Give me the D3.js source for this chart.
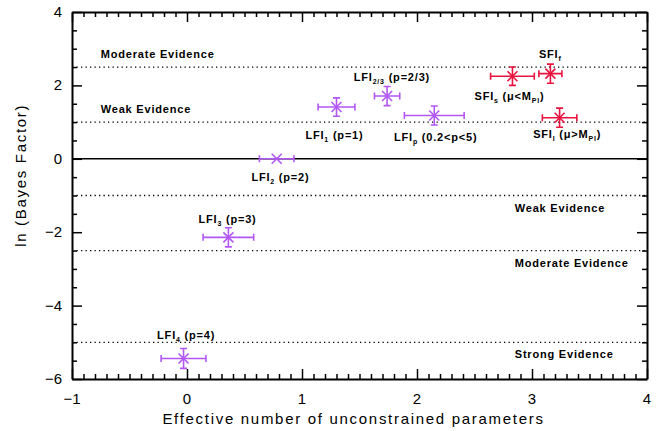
<!DOCTYPE html>
<html>
<head>
<meta charset="utf-8">
<script src="https://cdn.jsdelivr.net/npm/d3@7"></script>
<style>
  body { margin: 0; background: #fff; }
  svg { display: block; }
  .tick-label { font-family: 'Liberation Sans', sans-serif; font-size: 15px; fill: #000; }
  .axis-title { font-family: 'Liberation Sans', sans-serif; font-size: 15px; letter-spacing: 1.7px; fill: #000; }
  .note { font-family: 'Liberation Sans', sans-serif; font-size: 11px; font-weight: bold; fill: #000; letter-spacing: 0.8px; }
</style>
</head>
<body>
<div id="chart"></div>
<script>
// models: name, effective params, ln B and errors
const models = ['LFI1', 'LFI2', 'LFI3', 'LFI4', 'LFI2/3', 'LFIp', 'SFIs', 'SFIf', 'SFIl'];
const xVals = [1.30, 0.78, 0.36, -0.03, 1.74, 2.15, 2.83, 3.16, 3.24];
const xErrs = [0.16, 0.15, 0.22, 0.195, 0.11, 0.26, 0.19, 0.10, 0.15];
const yVals = [1.41, 0.0, -2.14, -5.44, 1.71, 1.18, 2.25, 2.32, 1.12];
const yErrs = [0.25, 0.0, 0.26, 0.27, 0.26, 0.26, 0.25, 0.26, 0.26];
const groups = ['LFI', 'LFI', 'LFI', 'LFI', 'LFI', 'LFI', 'SFI', 'SFI', 'SFI'];

const xTicks = [-1, 0, 1, 2, 3, 4];
const yTicks = [-6, -4, -2, 0, 2, 4];
const evidenceLines = [2.5, 1, -1, -2.5, -5];

// label text pieces, 'sub' marks a subscript
const labels = [
  { parts: [['LFI'], ['1', 'sub'], [' (p=1)']], x: 1.03, y: 0.55 },
  { parts: [['LFI'], ['2', 'sub'], [' (p=2)']], x: 0.56, y: -0.6 },
  { parts: [['LFI'], ['3', 'sub'], [' (p=3)']], x: 0.1, y: -1.75 },
  { parts: [['LFI'], ['4', 'sub'], [' (p=4)']], x: -0.26, y: -4.9 },
  { parts: [['LFI'], ['2/3', 'sub'], [' (p=2/3)']], x: 1.45, y: 2.12 },
  { parts: [['LFI'], ['p', 'sub'], [' (0.2<p<5)']], x: 1.80, y: 0.48 },
  { parts: [['SFI'], ['s', 'sub'], [' (\u03bc<M'], ['Pl', 'sub'], [')']], x: 2.50, y: 1.6 },
  { parts: [['SFI'], ['f', 'sub']], x: 3.06, y: 2.75 },
  { parts: [['SFI'], ['l', 'sub'], [' (\u03bc>M'], ['Pl', 'sub'], [')']], x: 3.01, y: 0.56 }
];
const leftNotes = [{ t: 'Moderate Evidence', y: 2.74 }, { t: 'Weak Evidence', y: 1.25 }];
const rightNotes = [{ t: 'Weak Evidence', y: -1.45 }, { t: 'Moderate Evidence', y: -2.95 }, { t: 'Strong Evidence', y: -5.43 }];

const colors = { LFI: '#b257f5', SFI: '#e8133f' };

const W = 660, H = 431;
const margin = { top: 12, right: 13, bottom: 52, left: 72 };
const width = W - margin.left - margin.right;
const height = H - margin.top - margin.bottom;

const svg = d3.select('#chart').append('svg')
  .attr('width', W).attr('height', H)
  .append('g')
  .attr('transform', 'translate(' + margin.left + ',' + margin.top + ')');

const x = d3.scaleLinear().domain([-1, 4]).range([0, width]);
const y = d3.scaleLinear().domain([-6, 4]).range([height, 0]);

// reference lines
svg.selectAll('.ev')
  .data(evidenceLines)
  .enter().append('line')
  .attr('x1', 0).attr('x2', width)
  .attr('y1', d => y(d)).attr('y2', d => y(d))
  .attr('stroke', '#000').attr('stroke-width', 1.3)
  .attr('stroke-dasharray', '1.3,3.2');

svg.append('line')
  .attr('x1', 0).attr('x2', width)
  .attr('y1', y(0)).attr('y2', y(0))
  .attr('stroke', '#000').attr('stroke-width', 1.5);

// frame with ticks on all four sides
const major = 10, minor = 5;
const xMinor = d3.range(-1, 4.001, 0.1).map(v => +v.toFixed(2));
const yMinor = d3.range(-6, 4.001, 0.5);
const isMajor = (v) => Math.abs(v - Math.round(v)) < 1e-6;

svg.append('g').attr('transform', 'translate(0,' + height + ')')
  .call(d3.axisBottom(x).tickValues(xMinor).tickSizeInner(0).tickSizeOuter(0).tickFormat(''))
  .call(g => g.selectAll('.tick line').attr('y2', d => -(isMajor(d) ? major : minor)));
svg.append('g')
  .call(d3.axisTop(x).tickValues(xMinor).tickSizeInner(0).tickSizeOuter(0).tickFormat(''))
  .call(g => g.selectAll('.tick line').attr('y2', d => (isMajor(d) ? major : minor)));
svg.append('g')
  .call(d3.axisLeft(y).tickValues(yMinor).tickSizeInner(0).tickSizeOuter(0).tickFormat(''))
  .call(g => g.selectAll('.tick line').attr('x2', d => (d % 2 === 0 ? major : minor)));
svg.append('g').attr('transform', 'translate(' + width + ',0)')
  .call(d3.axisRight(y).tickValues(yMinor).tickSizeInner(0).tickSizeOuter(0).tickFormat(''))
  .call(g => g.selectAll('.tick line').attr('x2', d => -(d % 2 === 0 ? major : minor)));
svg.selectAll('.domain').attr('stroke', '#000').attr('stroke-width', 2);
svg.selectAll('.tick line').attr('stroke', '#000').attr('stroke-width', 1.5);

// tick labels
svg.selectAll('.xl').data(xTicks).enter().append('text')
  .attr('class', 'tick-label')
  .attr('x', d => x(d)).attr('y', height + 25)
  .attr('text-anchor', 'middle')
  .text(d => d < 0 ? '\u2212' + Math.abs(d) : d);
svg.selectAll('.yl').data(yTicks).enter().append('text')
  .attr('class', 'tick-label')
  .attr('x', -10).attr('y', d => y(d) + 5)
  .attr('text-anchor', 'end')
  .text(d => d < 0 ? '\u2212' + Math.abs(d) : d);

svg.append('text').attr('class', 'axis-title')
  .attr('x', width / 2 - 6).attr('y', height + 45)
  .attr('text-anchor', 'middle')
  .text('Effective number of unconstrained parameters');
svg.append('text').attr('class', 'axis-title')
  .attr('transform', 'rotate(-90)')
  .attr('x', -(y(-0.45))).attr('y', -46)
  .attr('text-anchor', 'middle')
  .text('ln (Bayes Factor)');

// evidence notes
svg.selectAll('.ln').data(leftNotes).enter().append('text')
  .attr('class', 'note').attr('x', x(-0.75)).attr('y', d => y(d.y)).text(d => d.t);
svg.selectAll('.rn').data(rightNotes).enter().append('text')
  .attr('class', 'note').attr('x', x(2.85)).attr('y', d => y(d.y)).text(d => d.t);

// points with error bars
const pts = models.map((m, i) => ({ m, x: xVals[i], xe: xErrs[i], y: yVals[i], ye: yErrs[i], g: groups[i] }));
const cap = 3.5, arm = 5;
const pg = svg.selectAll('.pt').data(pts).enter().append('g')
  .attr('stroke', d => colors[d.g]).attr('stroke-width', 1.6).attr('fill', 'none');
pg.append('path')
  .attr('d', d => {
    const x0 = x(d.x - d.xe), x1 = x(d.x + d.xe), cy = y(d.y);
    return 'M' + x0 + ',' + cy + 'H' + x1 +
      'M' + x0 + ',' + (cy - cap) + 'V' + (cy + cap) +
      'M' + x1 + ',' + (cy - cap) + 'V' + (cy + cap);
  });
pg.filter(d => d.ye > 0).append('path')
  .attr('d', d => {
    const y0 = y(d.y - d.ye), y1 = y(d.y + d.ye), cx = x(d.x);
    return 'M' + cx + ',' + y0 + 'V' + y1 +
      'M' + (cx - cap) + ',' + y0 + 'H' + (cx + cap) +
      'M' + (cx - cap) + ',' + y1 + 'H' + (cx + cap);
  });
pg.append('path')
  .attr('d', d => {
    const cx = x(d.x), cy = y(d.y);
    return 'M' + (cx - arm) + ',' + (cy - arm) + 'L' + (cx + arm) + ',' + (cy + arm) +
      'M' + (cx - arm) + ',' + (cy + arm) + 'L' + (cx + arm) + ',' + (cy - arm);
  });

// model labels with subscripts
const lt = svg.selectAll('.ml').data(labels).enter().append('text')
  .attr('class', 'note').attr('x', d => x(d.x)).attr('y', d => y(d.y));
lt.each(function (d) {
  const t = d3.select(this);
  d.parts.forEach(p => {
    const s = t.append('tspan').text(p[0]);
    if (p[1] === 'sub') {
      s.attr('font-size', '7px').attr('dy', 3);
    } else if (t.selectAll('tspan').size() > 1) {
      s.attr('dy', -3);
    }
  });
});
</script>
</body>
</html>
